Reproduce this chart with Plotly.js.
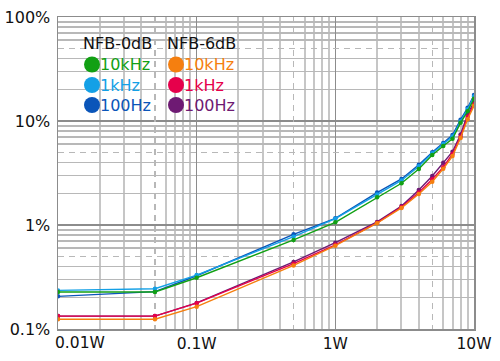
<!DOCTYPE html>
<html>
<head>
<meta charset="utf-8">
<script src="https://cdn.plot.ly/plotly-3.0.1.min.js"></script>
<style>html,body{margin:0;padding:0;background:#fff;}#chart{width:500px;height:361px;}</style>
</head>
<body>
<div id="chart"></div>
<script>
// Output power (W)
const powerW = [0.01, 0.05, 0.1, 0.5, 1, 2, 3, 4, 5, 6, 7, 8, 9, 10];
// THD (%) – NFB 0dB
const nfb0_10kHz = [0.227, 0.227, 0.311, 0.718, 1.06, 1.85, 2.52, 3.45, 4.71, 5.75, 6.75, 9.6, 12.4, 16.4];
const nfb0_1kHz  = [0.235, 0.244, 0.330, 0.773, 1.15, 1.96, 2.68, 3.67, 4.90, 6.00, 7.10, 9.9, 13.0, 17.2];
const nfb0_100Hz = [0.206, 0.229, 0.325, 0.813, 1.16, 2.05, 2.77, 3.80, 5.00, 6.15, 7.33, 10.3, 13.4, 17.8];
// THD (%) – NFB 6dB
const nfb6_10kHz = [0.124, 0.124, 0.164, 0.409, 0.633, 1.04, 1.46, 1.99, 2.61, 3.47, 4.60, 6.85, 10.4, 14.0];
const nfb6_1kHz  = [0.133, 0.133, 0.177, 0.425, 0.645, 1.05, 1.49, 2.05, 2.75, 3.60, 4.82, 7.06, 11.0, 14.6];
const nfb6_100Hz = [0.133, 0.133, 0.178, 0.441, 0.676, 1.07, 1.52, 2.17, 2.96, 3.97, 5.07, 7.40, 11.6, 15.3];

const xTickVals = [0.1, 1, 10];
const xTickText = ['0.1W', '1W', '10W'];
const firstXLabel = '0.01W';
const yTickVals = [0.1, 1, 10, 100];
const yTickText = ['0.1%', '1%', '10%', '100%'];
const groupTitles = ['NFB-0dB', 'NFB-6dB'];
const freqLabels = ['10kHz', '1kHz', '100Hz'];

const C = {
  g: '#12a014', lb: '#14a0e6', db: '#0a55b9',
  o: '#f57f0f', r: '#e6004b', p: '#6e1a73'
};

function tr(y, color) {
  return {x: powerW, y: y, type: 'scatter', mode: 'lines+markers',
    line: {color: color, width: 1.4}, marker: {color: color, size: 4.5},
    showlegend: false, hoverinfo: 'x+y'};
}
const data = [
  tr(nfb6_100Hz, C.p), tr(nfb6_1kHz, C.r), tr(nfb6_10kHz, C.o),
  tr(nfb0_100Hz, C.db), tr(nfb0_1kHz, C.lb), tr(nfb0_10kHz, C.g),
  {x: [], y: [], xaxis: 'x2', yaxis: 'y2', type: 'scatter', showlegend: false, hoverinfo: 'skip'}
];

function minorVals(lo, hi) {
  const v = [];
  for (let e = lo; e < hi; e++) for (const m of [2, 3, 4, 6, 7, 8, 9]) v.push(m * Math.pow(10, e));
  return v;
}
const FONT = 'DejaVu Sans, sans-serif';
const fnt = {family: FONT, size: 16, color: '#111'};

const L = 58, R = 26, T = 17, B = 32, W = 500, H = 361;
const pw = W - L - R, ph = H - T - B;
const px = v => (v - L) / pw, py = v => (H - B - v) / ph;

const legendColors = [[C.g, C.lb, C.db], [C.o, C.r, C.p]];
const colCircle = [92, 176], colText = [100, 184], colHead = [83, 167];
const rowY = [64.5, 85, 105], headY = 43;

const annotations = [
  {text: firstXLabel, x: -2, xref: 'x', y: 0, yref: 'paper', xanchor: 'left', yanchor: 'top',
   xshift: -5, yshift: -3, showarrow: false, font: {family: FONT, size: 15.5, color: '#111'}}
];
const shapes = [];
for (let c = 0; c < 2; c++) {
  annotations.push({text: groupTitles[c], x: px(colHead[c]), y: py(headY), xref: 'paper', yref: 'paper',
    xanchor: 'left', yanchor: 'middle', xshift: -2, showarrow: false, font: fnt});
  for (let r = 0; r < 3; r++) {
    const col = legendColors[c][r];
    annotations.push({text: freqLabels[r], x: px(colText[c]), y: py(rowY[r]), xref: 'paper', yref: 'paper',
      xanchor: 'left', yanchor: 'middle', xshift: -2, showarrow: false,
      font: {family: FONT, size: 16, color: col}});
    shapes.push({type: 'circle', xref: 'paper', yref: 'paper', xsizemode: 'pixel', ysizemode: 'pixel',
      xanchor: px(colCircle[c]), yanchor: py(rowY[r]), x0: -8, x1: 8, y0: -8, y1: 8,
      fillcolor: col, line: {width: 0}});
  }
}

const layout = {
  width: W, height: H,
  margin: {l: L, r: R, t: T, b: B},
  paper_bgcolor: '#fff', plot_bgcolor: '#fff',
  showlegend: false,
  xaxis: {type: 'log', range: [-2, 1], tickmode: 'array', tickvals: xTickVals, ticktext: xTickText,
    ticks: '', tickfont: {family: FONT, size: 15.5, color: '#111'},
    showgrid: true, gridcolor: '#8c8c8c', gridwidth: 1.5, zeroline: false,
    showline: true, mirror: true, linecolor: '#8c8c8c', linewidth: 1.5,
    minor: {tickmode: 'array', tickvals: minorVals(-2, 1), showgrid: true, gridcolor: '#c6c6c6', gridwidth: 2, ticks: ''}},
  yaxis: {type: 'log', range: [-1, 2], tickmode: 'array', tickvals: yTickVals, ticktext: yTickText,
    ticks: '', tickfont: fnt, ticklabelstandoff: 3,
    showgrid: true, gridcolor: '#8c8c8c', gridwidth: 1.5, zeroline: false,
    showline: true, mirror: true, linecolor: '#8c8c8c', linewidth: 1.5,
    minor: {tickmode: 'array', tickvals: minorVals(-1, 2), showgrid: true, gridcolor: '#b8b8b8', gridwidth: 1.5, ticks: ''}},
  xaxis2: {type: 'log', range: [-2, 1], overlaying: 'x', anchor: 'y2', tickmode: 'array', tickvals: [0.05, 0.5, 5],
    showticklabels: false, ticks: '', showgrid: true, gridcolor: '#b8b8b8', gridwidth: 1.5, griddash: '6px,5px', zeroline: false},
  yaxis2: {type: 'log', range: [-1, 2], overlaying: 'y', anchor: 'x2', tickmode: 'array', tickvals: [0.5, 5, 50],
    showticklabels: false, ticks: '', showgrid: true, gridcolor: '#b8b8b8', gridwidth: 1.5, griddash: '6px,5px', zeroline: false},
  annotations: annotations,
  shapes: shapes
};

Plotly.newPlot('chart', data, layout, {staticPlot: true, displayModeBar: false});
</script>
</body>
</html>
